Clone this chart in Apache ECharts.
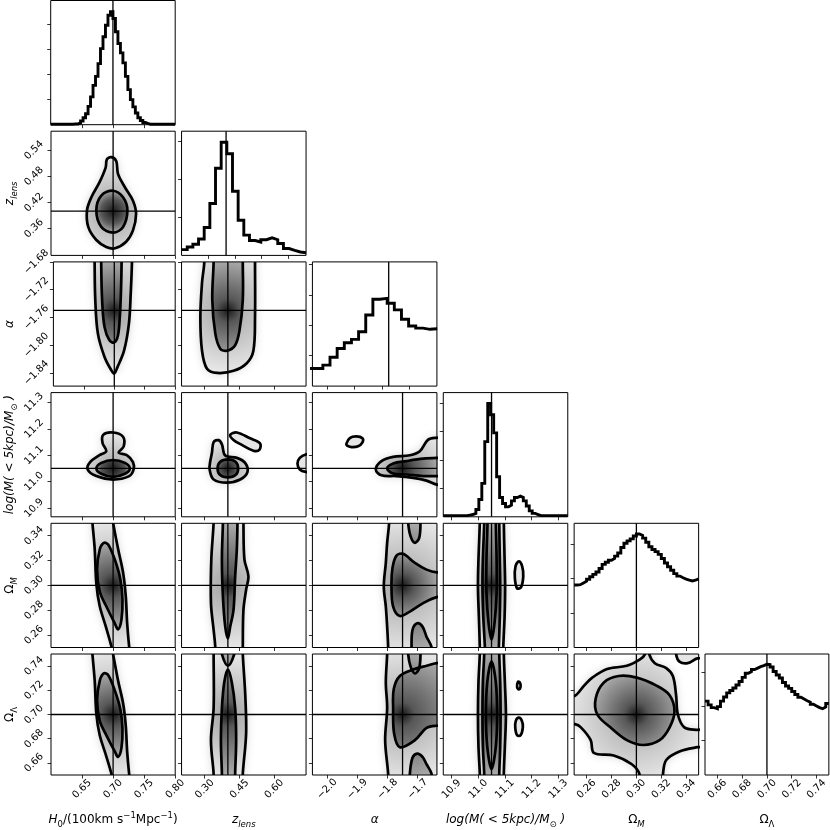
<!DOCTYPE html>
<html>
<head>
<meta charset="utf-8">
<script src="https://cdn.jsdelivr.net/npm/echarts@6/dist/echarts.min.js"></script>
<style>
  html, body { margin: 0; padding: 0; background: #fff; }
  #chart { width: 830px; height: 830px; }
</style>
</head>
<body>
<div id="chart"></div>
<script>
// ---- parameters / truths ----
const truths = [0.70, 0.40, -1.75, 11.05, 0.30, 0.70];

// axis ranges of the lower (2d) panels, per column (x) and per row (y)
const lowX = [[0.60, 0.80], [0.2004, 0.737], [-2.049, -1.636], [10.869, 11.336], [0.25, 0.35]];
const lowY = [null, [0.2986, 0.5836], [-1.859, -1.68], [10.867, 11.337], [0.25, 0.35], [0.65, 0.75]];
const lowXTicks = [[0.65, 0.70, 0.75, 0.80], [0.30, 0.45, 0.60], [-2.0, -1.9, -1.8, -1.7], [10.9, 11.0, 11.1, 11.2, 11.3], [0.26, 0.28, 0.30, 0.32, 0.34]];
const lowYTicks = [null, [0.36, 0.42, 0.48, 0.54], [-1.84, -1.80, -1.76, -1.72, -1.68], [10.9, 11.0, 11.1, 11.2, 11.3], [0.26, 0.28, 0.30, 0.32, 0.34], [0.66, 0.68, 0.70, 0.72, 0.74]];
const lowXDec = [2, 2, 1, 1, 2];
const lowYDec = [0, 2, 2, 1, 2, 2];

// diagonal panels
const diagX = [[0.60, 0.80], [0.15, 0.849], [-2.305, -1.399], [10.869, 11.336], [0.25, 0.35], [0.65, 0.75]];
const diagXTicks = [[0.65, 0.70, 0.75], [0.30, 0.45, 0.60, 0.75], [-2.2, -2.0, -1.8, -1.6], [10.9, 11.0, 11.1, 11.2, 11.3], [0.26, 0.28, 0.30, 0.32, 0.34], [0.66, 0.68, 0.70, 0.72, 0.74]];
const diagYMax = [4.96, 3.25, 4.09, 4.38, 3.6, 3.52];
const diagYTicks = [[1, 2, 3, 4], [1, 2, 3], [1, 2, 3, 4], [1, 2, 3, 4], [1, 2, 3], [1, 2, 3]];

// histograms: [lo, hi] of the bins and bin heights
const h0Range = [0.60, 0.80];
const h0Hist = [0.02, 0.02, 0.02, 0.02, 0.02, 0.02, 0.02, 0.02, 0.02, 0.03, 0.03,
  0.07, 0.15, 0.28, 0.44, 0.73, 1.11, 1.57, 1.93, 2.44, 3.04,
  3.51, 3.97, 4.37, 4.51, 4.24, 3.71, 3.24, 2.87, 2.47, 1.93,
  1.40, 1.00, 0.71, 0.47, 0.28, 0.17, 0.09, 0.05,
  0.02, 0.02, 0.02, 0.02, 0.02, 0.02, 0.02, 0.02, 0.02, 0.02, 0.02];
const zlensRange = [0.15, 0.849];
const zlensHist = [0.15, 0.22, 0.29, 0.43, 0.73, 1.36, 2.28, 2.96, 2.66, 1.68, 0.92, 0.53, 0.39, 0.35, 0.41, 0.46, 0.41, 0.31, 0.18, 0.13, 0.09, 0.07];
const alphaRange = [-2.333, -1.397];
const alphaHist = [0.58, 0.58, 0.69, 0.95, 1.24, 1.43, 1.54, 1.79, 2.34, 2.86, 2.89, 2.73, 2.51, 2.20, 1.98, 1.91, 1.87, 1.89];
const logmRange = [10.869, 11.336];
const logmHist = [0.04, 0.04, 0.04, 0.04, 0.04, 0.04, 0.04, 0.04,
  0.06, 0.08, 0.12, 0.26, 0.61, 1.18, 2.65, 4.0, 3.6, 2.96, 1.41, 0.68, 0.47, 0.35, 0.41, 0.56,
  0.68, 0.73, 0.68, 0.56, 0.38, 0.21, 0.12, 0.08,
  0.04, 0.04, 0.04, 0.04, 0.04, 0.04, 0.04, 0.04, 0.04, 0.04];
const omRange = [0.25, 0.35];
const omHist = [1.81, 1.82, 1.87, 1.92, 1.98, 2.05, 2.12, 2.19, 2.29, 2.41, 2.47, 2.53, 2.58, 2.65, 2.74, 2.90, 3.02, 3.09, 3.15, 3.23,
  3.29, 3.25, 3.17, 3.05, 2.92, 2.84, 2.78, 2.70, 2.58, 2.45, 2.34, 2.24, 2.14, 2.07, 2.02, 1.98, 1.95, 1.93, 1.95, 1.99];
const olRange = [0.65, 0.75];
const olHist = [2.15, 2.04, 1.96, 1.93, 1.99, 2.15, 2.27, 2.39, 2.46, 2.53, 2.62, 2.72, 2.84, 2.96, 3.01, 3.07, 3.11, 3.15, 3.18, 3.22,
  3.21, 3.14, 3.01, 2.91, 2.82, 2.69, 2.59, 2.52, 2.43, 2.34, 2.26, 2.21, 2.16, 2.12, 2.06, 2.01, 1.96, 1.93, 1.98, 2.08];

// ---- contour outlines (data units) ----
// zlens vs H0
const zH0Outer = [[0.697, 0.524], [0.705, 0.515], [0.708, 0.485], [0.719, 0.455], [0.732, 0.424], [0.737, 0.394], [0.732, 0.356], [0.721, 0.330], [0.703, 0.315], [0.689, 0.318], [0.673, 0.334], [0.660, 0.364], [0.658, 0.402], [0.665, 0.432], [0.678, 0.466], [0.688, 0.500], [0.690, 0.519]];
const zH0Inner = [[0.700, 0.447], [0.716, 0.432], [0.723, 0.402], [0.716, 0.364], [0.700, 0.351], [0.681, 0.364], [0.673, 0.402], [0.681, 0.436]];
// alpha vs H0
const aH0Outer = [[0.6677, -1.64], [0.6677, -1.68], [0.6688, -1.735], [0.673, -1.783], [0.684, -1.817], [0.695, -1.836], [0.700, -1.841], [0.705, -1.832], [0.716, -1.808], [0.724, -1.769], [0.727, -1.725], [0.729, -1.68], [0.729, -1.64]];
const aH0Inner = [[0.6785, -1.64], [0.6785, -1.68], [0.680, -1.735], [0.684, -1.774], [0.692, -1.793], [0.700, -1.796], [0.706, -1.786], [0.709, -1.760], [0.711, -1.721], [0.712, -1.68], [0.712, -1.64]];
// alpha vs zlens
const aZOuter = [[0.2986, -1.64], [0.2986, -1.68], [0.2886, -1.71], [0.2814, -1.76], [0.2886, -1.808], [0.31, -1.834], [0.3529, -1.84], [0.4243, -1.837], [0.4814, -1.826], [0.51, -1.808], [0.517, -1.76], [0.517, -1.68], [0.517, -1.64]];
const aZInner = [[0.3386, -1.64], [0.3386, -1.68], [0.3329, -1.735], [0.3457, -1.783], [0.3671, -1.805], [0.3957, -1.808], [0.4314, -1.80], [0.45, -1.779], [0.4643, -1.735], [0.4643, -1.68], [0.4643, -1.64]];
// logM vs H0
const mH0Outer = [[0.70, 11.186], [0.716, 11.17], [0.717, 11.133], [0.709, 11.11], [0.722, 11.10], [0.732, 11.074], [0.733, 11.046], [0.726, 11.021], [0.70, 11.008], [0.673, 11.021], [0.659, 11.046], [0.663, 11.074], [0.678, 11.10], [0.689, 11.115], [0.683, 11.146], [0.684, 11.177]];
const mH0Inner = [[0.673, 11.05], [0.681, 11.071], [0.70, 11.082], [0.719, 11.071], [0.727, 11.05], [0.719, 11.03], [0.70, 11.018], [0.681, 11.03]];
// logM vs zlens
const mZOuter = [[0.3214, 11.046], [0.3386, 11.008], [0.3957, 10.996], [0.4529, 11.008], [0.4843, 11.036], [0.4743, 11.071], [0.4386, 11.09], [0.3886, 11.099], [0.3743, 11.141], [0.36, 11.157], [0.3386, 11.15], [0.3314, 11.109], [0.3243, 11.078]];
const mZInner = [[0.3557, 11.05], [0.3671, 11.075], [0.40, 11.084], [0.4329, 11.075], [0.4443, 11.05], [0.4329, 11.025], [0.40, 11.016], [0.3671, 11.025]];
const mZBlob = [[0.41, 11.177], [0.4386, 11.186], [0.4957, 11.164], [0.5386, 11.145], [0.5357, 11.12], [0.51, 11.117], [0.46, 11.139], [0.4243, 11.158]];
const mZEdge = [[0.767, 11.103], [0.7357, 11.103], [0.71, 11.09], [0.70, 11.069], [0.71, 11.046], [0.7357, 11.037], [0.767, 11.037]];
// logM vs alpha
const mAOuter = [[-1.8387, 11.046], [-1.8199, 11.078], [-1.7812, 11.094], [-1.7258, 11.10], [-1.6926, 11.115], [-1.665, 11.159], [-1.6362, 11.166], [-1.60, 11.166], [-1.60, 10.989], [-1.6362, 10.989], [-1.6705, 11.004], [-1.7148, 11.014], [-1.7701, 11.021], [-1.8199, 11.024]];
const mAInner = [[-1.8011, 11.05], [-1.7812, 11.069], [-1.737, 11.078], [-1.6816, 11.087], [-1.6362, 11.09], [-1.60, 11.09], [-1.60, 11.021], [-1.6362, 11.021], [-1.6816, 11.021], [-1.737, 11.027], [-1.7812, 11.031]];
const mAIsle = [[-1.9362, 11.144], [-1.9251, 11.165], [-1.903, 11.171], [-1.883, 11.164], [-1.883, 11.149], [-1.8974, 11.134], [-1.9196, 11.131], [-1.934, 11.136]];
// OmegaM vs H0
const omH0Outer = [[0.6651, 0.362], [0.6667, 0.3505], [0.6704, 0.3292], [0.6731, 0.3008], [0.6785, 0.2832], [0.6882, 0.267], [0.6973, 0.2508], [0.70, 0.2427], [0.728, 0.2427], [0.7258, 0.2508], [0.7226, 0.2697], [0.7204, 0.2914], [0.7161, 0.3103], [0.7081, 0.3292], [0.70, 0.3505], [0.6973, 0.362]];
const omH0Inner = [[0.685, 0.3343], [0.692, 0.3329], [0.7027, 0.3208], [0.7118, 0.3046], [0.7151, 0.2884], [0.7134, 0.2722], [0.7081, 0.2646], [0.7027, 0.2695], [0.6892, 0.283], [0.6785, 0.2951], [0.6742, 0.3127], [0.6785, 0.3289]];
// OmegaM vs zlens
const omZOuter = [[0.3386, 0.365], [0.3386, 0.3505], [0.3286, 0.3208], [0.3271, 0.2857], [0.3386, 0.2641], [0.3457, 0.2506], [0.3457, 0.24], [0.4643, 0.24], [0.4643, 0.2506], [0.4671, 0.2803], [0.4786, 0.2965], [0.4886, 0.3073], [0.4714, 0.3208], [0.4671, 0.3505], [0.4671, 0.365]];
const omZInner = [[0.3786, 0.365], [0.3786, 0.3505], [0.3743, 0.3208], [0.3786, 0.2911], [0.3886, 0.2668], [0.40, 0.2573], [0.41, 0.2668], [0.4243, 0.2803], [0.4314, 0.3073], [0.4386, 0.3289], [0.4414, 0.3505], [0.4414, 0.365]];
// OmegaM vs alpha
const omAOuter = [[-1.7945, 0.362], [-1.7945, 0.3505], [-1.8011, 0.3343], [-1.8055, 0.3181], [-1.8122, 0.2992], [-1.8055, 0.283], [-1.8011, 0.2668], [-1.7978, 0.2503], [-1.7978, 0.24], [-1.59, 0.24], [-1.59, 0.362]];
const omAInner = [[-1.59, 0.3113], [-1.6362, 0.3105], [-1.6705, 0.3127], [-1.7092, 0.3181], [-1.748, 0.3254], [-1.7701, 0.324], [-1.7834, 0.314], [-1.7867, 0.2992], [-1.7812, 0.283], [-1.759, 0.2754], [-1.7258, 0.2789], [-1.6816, 0.2857], [-1.6362, 0.2906], [-1.59, 0.2906]];
const omATop = [[-1.7314, 0.362], [-1.7314, 0.3505], [-1.7236, 0.3397], [-1.7092, 0.3343], [-1.6948, 0.3383], [-1.6904, 0.3505], [-1.6904, 0.362]];
const omABot = [[-1.7203, 0.24], [-1.7203, 0.2503], [-1.717, 0.2641], [-1.7015, 0.2695], [-1.6838, 0.2668], [-1.6705, 0.2587], [-1.6539, 0.2503], [-1.6539, 0.24]];
// OmegaM vs logM
const omMOuter = [[11.006, 0.362], [11.006, 0.3505], [11.001, 0.3208], [10.999, 0.2992], [11.0025, 0.2749], [11.006, 0.2503], [11.006, 0.24], [11.094, 0.24], [11.094, 0.2503], [11.099, 0.2749], [11.101, 0.2992], [11.099, 0.3208], [11.096, 0.3505], [11.096, 0.362]];
const omMMid = [[11.0225, 0.362], [11.0225, 0.3505], [11.0175, 0.3208], [11.016, 0.2992], [11.019, 0.2749], [11.025, 0.2503], [11.025, 0.24], [11.0775, 0.24], [11.0775, 0.2503], [11.081, 0.2749], [11.0825, 0.2992], [11.081, 0.3208], [11.079, 0.3505], [11.079, 0.362]];
const omMInner = [[11.035, 0.362], [11.035, 0.3505], [11.031, 0.3208], [11.031, 0.2938], [11.039, 0.2695], [11.05, 0.2565], [11.061, 0.2695], [11.069, 0.2938], [11.069, 0.3208], [11.066, 0.3505], [11.066, 0.362]];
const omMIsle = [[11.1525, 0.3194], [11.165, 0.3154], [11.169, 0.3073], [11.161, 0.2987], [11.146, 0.2976], [11.1375, 0.3059], [11.14, 0.3154]];
// OmegaL vs H0
const olH0Outer = [[0.6651, 0.7583], [0.6667, 0.7498], [0.6704, 0.7278], [0.6731, 0.70], [0.6785, 0.6828], [0.6882, 0.6669], [0.6973, 0.651], [0.70, 0.643], [0.728, 0.643], [0.7258, 0.651], [0.7226, 0.6695], [0.7204, 0.6907], [0.7161, 0.7093], [0.7081, 0.7278], [0.70, 0.7498], [0.6973, 0.7583]];
const olH0Inner = [[0.685, 0.7339], [0.692, 0.7326], [0.7027, 0.7199], [0.7118, 0.704], [0.7151, 0.6881], [0.7134, 0.6722], [0.7081, 0.665], [0.7027, 0.6695], [0.6892, 0.6828], [0.6785, 0.6947], [0.6742, 0.7119], [0.6785, 0.7278]];
// OmegaL vs zlens
const olZOuter = [[0.3386, 0.76], [0.3386, 0.7498], [0.3386, 0.7053], [0.3271, 0.6788], [0.3386, 0.651], [0.3386, 0.64], [0.4643, 0.64], [0.4643, 0.651], [0.4786, 0.6841], [0.475, 0.7159], [0.4643, 0.7498], [0.4643, 0.76]];
const olZInner = [[0.40, 0.7371], [0.4171, 0.7265], [0.4314, 0.7053], [0.4357, 0.6788], [0.4314, 0.651], [0.4314, 0.64], [0.3743, 0.64], [0.3743, 0.651], [0.37, 0.6788], [0.3743, 0.7053], [0.3843, 0.7265]];
const olZTop = [[0.37, 0.76], [0.3743, 0.7498], [0.40, 0.7403], [0.4271, 0.7498], [0.4314, 0.76]];
// OmegaL vs alpha
const olAOuter = [[-1.8011, 0.76], [-1.8011, 0.7498], [-1.8055, 0.7265], [-1.8011, 0.7053], [-1.8077, 0.6788], [-1.7978, 0.651], [-1.7978, 0.64], [-1.59, 0.64], [-1.59, 0.76]];
const olAInner = [[-1.59, 0.7429], [-1.6362, 0.7424], [-1.6705, 0.7403], [-1.7148, 0.7371], [-1.759, 0.7318], [-1.779, 0.7212], [-1.7812, 0.7053], [-1.7779, 0.6841], [-1.759, 0.673], [-1.7092, 0.6788], [-1.6705, 0.6889], [-1.6362, 0.6907], [-1.59, 0.6907]];
const olATop = [[-1.7314, 0.76], [-1.7314, 0.7498], [-1.7236, 0.7398], [-1.7092, 0.7339], [-1.6948, 0.7384], [-1.6904, 0.7498], [-1.6904, 0.76]];
const olABot = [[-1.7258, 0.64], [-1.7258, 0.651], [-1.717, 0.6642], [-1.7015, 0.6677], [-1.6838, 0.665], [-1.6705, 0.6589], [-1.6539, 0.651], [-1.6539, 0.64]];
// OmegaL vs logM
const olMOuter = [[11.006, 0.76], [11.006, 0.7498], [11.001, 0.7265], [10.999, 0.70], [11.001, 0.6735], [11.006, 0.651], [11.006, 0.64], [11.096, 0.64], [11.096, 0.651], [11.10, 0.6735], [11.104, 0.70], [11.10, 0.7265], [11.096, 0.7498], [11.096, 0.76]];
const olMMid = [[11.0225, 0.76], [11.0225, 0.7498], [11.0175, 0.7265], [11.016, 0.70], [11.0175, 0.6735], [11.0225, 0.651], [11.0225, 0.64], [11.079, 0.64], [11.079, 0.651], [11.0825, 0.6735], [11.084, 0.70], [11.0825, 0.7265], [11.079, 0.7498], [11.079, 0.76]];
const olMInner = [[11.05, 0.7437], [11.066, 0.7265], [11.071, 0.70], [11.066, 0.6735], [11.05, 0.6549], [11.034, 0.6735], [11.029, 0.70], [11.034, 0.7265]];
const olMDot = [[11.149, 0.727], [11.156, 0.7265], [11.159, 0.7233], [11.1525, 0.7207], [11.146, 0.7225]];
const olMIsle = [[11.1525, 0.6974], [11.164, 0.6947], [11.1675, 0.6894], [11.159, 0.6828], [11.146, 0.6828], [11.139, 0.6889], [11.141, 0.6947]];
// OmegaL vs OmegaM
const olOmOuter = [[0.2448, 0.7159], [0.2506, 0.7154], [0.258, 0.7239], [0.2646, 0.7305], [0.2765, 0.7376], [0.2923, 0.7403], [0.3029, 0.7456], [0.3069, 0.7498], [0.3077, 0.7583], [0.3103, 0.7583], [0.3103, 0.7498], [0.3148, 0.7424], [0.324, 0.7384], [0.3293, 0.7318], [0.3319, 0.7159], [0.3333, 0.70], [0.3385, 0.6894], [0.3491, 0.6873], [0.3557, 0.6873], [0.3557, 0.6735], [0.3491, 0.673], [0.3346, 0.6695], [0.324, 0.6624], [0.3214, 0.651], [0.3214, 0.6417], [0.3024, 0.6417], [0.3024, 0.651], [0.2963, 0.6589], [0.2818, 0.6661], [0.2659, 0.6682], [0.2633, 0.6788], [0.2554, 0.6894], [0.2506, 0.692], [0.2448, 0.692]];
const olOmInner = [[0.2673, 0.7133], [0.2739, 0.7265], [0.2857, 0.7318], [0.3003, 0.7305], [0.3161, 0.7239], [0.3267, 0.7159], [0.3306, 0.7027], [0.3267, 0.6894], [0.3187, 0.6788], [0.3055, 0.6748], [0.2923, 0.6788], [0.2791, 0.6894], [0.2686, 0.70]];
const olOmArc = [[0.3319, 0.76], [0.3319, 0.7498], [0.3346, 0.7437], [0.3412, 0.7424], [0.3491, 0.7464], [0.36, 0.7464], [0.36, 0.76]];

// panels: [row, col, [[level, outline], ...]]  level 0 outer, 1 inner, 2 island
const panels2d = [
  [1, 0, [[0, zH0Outer], [1, zH0Inner]]],
  [2, 0, [[0, aH0Outer], [1, aH0Inner]]],
  [2, 1, [[0, aZOuter], [1, aZInner]]],
  [3, 0, [[0, mH0Outer], [1, mH0Inner]]],
  [3, 1, [[0, mZOuter], [2, mZBlob], [2, mZEdge], [1, mZInner]]],
  [3, 2, [[0, mAOuter], [2, mAIsle], [1, mAInner]]],
  [4, 0, [[0, omH0Outer], [1, omH0Inner]]],
  [4, 1, [[0, omZOuter], [1, omZInner]]],
  [4, 2, [[0, omAOuter], [1, omAInner], [1, omATop], [1, omABot]]],
  [4, 3, [[0, omMOuter], [2, omMIsle], [1, omMMid], [1, omMInner]]],
  [5, 0, [[0, olH0Outer], [1, olH0Inner]]],
  [5, 1, [[0, olZOuter], [1, olZInner], [1, olZTop]]],
  [5, 2, [[0, olAOuter], [1, olAInner], [1, olATop], [1, olABot]]],
  [5, 3, [[0, olMOuter], [2, olMDot], [2, olMIsle], [1, olMMid], [1, olMInner]]],
  [5, 4, [[0, olOmOuter], [2, olOmArc], [1, olOmInner]]]
];

const diagHists = [[h0Range, h0Hist], [zlensRange, zlensHist], [alphaRange, alphaHist], [logmRange, logmHist], [omRange, omHist], [olRange, olHist]];

const FONT = 'DejaVu Sans';
const axisNames = [
  '{i|H}{sub|0}/(100km s{sup|\u22121}Mpc{sup|\u22121})',
  '{i|z}{isub|lens}',
  '{i|\u03b1}',
  '{i|log(M( < 5kpc)/M}{sub|\u2299}{i| )}',
  '\u03a9{isub|M}',
  '\u03a9{sub|\u039b}'
];
const nameRich = {
  i: { fontStyle: 'italic', fontSize: 12, lineHeight: 18, fontFamily: FONT, color: '#000' },
  sub: { fontSize: 8.5, lineHeight: 9, verticalAlign: 'bottom', fontFamily: FONT, color: '#000' },
  isub: { fontSize: 8.5, lineHeight: 9, verticalAlign: 'bottom', fontStyle: 'italic', fontFamily: FONT, color: '#000' },
  sup: { fontSize: 8.5, lineHeight: 9, verticalAlign: 'top', fontFamily: FONT, color: '#000' }
};

function fmt(v, d) {
  return v.toFixed(d).replace('-', '\u2212');
}

// grey levels: dark core of ~12px around the peak, then fading out
function shadeStops(level, rad) {
  if (level === 0) {
    return [{ offset: 0, color: '#a4a4a4' }, { offset: 1, color: '#e9e9e9' }];
  }
  const core = Math.min(0.85, 12 / rad);
  return [{ offset: 0, color: '#1a1a1a' }, { offset: core, color: '#575757' }, { offset: 1, color: '#acacac' }];
}

function makeAxis(dim, g, range, ticks, dec, showLabels, name) {
  const a = {
    type: 'value', gridIndex: g, min: range[0], max: range[1],
    position: dim === 'x' ? 'bottom' : 'left',
    axisLine: { show: false },
    splitLine: { show: false },
    axisTick: { show: true, length: 3.5, customValues: ticks, lineStyle: { color: '#000', width: 0.8 } },
    axisLabel: {
      show: showLabels, customValues: ticks, rotate: 45, fontSize: 10, fontFamily: FONT, color: '#000',
      align: 'center', verticalAlign: 'middle', margin: dim === 'x' ? 14 : 17,
      formatter: (v) => fmt(v, dec)
    }
  };
  if (name) {
    a.name = name;
    a.nameLocation = 'middle';
    a.nameGap = dim === 'x' ? 36 : 32;
    a.nameTextStyle = { fontSize: 12, fontFamily: FONT, color: '#000', lineHeight: 18, rich: nameRich };
  }
  return a;
}

function stepPoints(range, vals) {
  const w = (range[1] - range[0]) / vals.length;
  const out = [];
  vals.forEach((v, i) => {
    out.push([range[0] + i * w, v], [range[0] + (i + 1) * w, v]);
  });
  return out;
}

function vline(g, x, yr) {
  return { type: 'line', xAxisIndex: g, yAxisIndex: g, data: [[x, yr[0]], [x, yr[1]]], symbol: 'none', silent: true, z: 3, lineStyle: { color: '#000', width: 1.3 } };
}
function hline(g, y, xr) {
  return { type: 'line', xAxisIndex: g, yAxisIndex: g, data: [[xr[0], y], [xr[1], y]], symbol: 'none', silent: true, z: 3, lineStyle: { color: '#000', width: 1.3 } };
}

function polySeries(g, shapes, peak, mode) {
  return {
    type: 'custom', xAxisIndex: g, yAxisIndex: g, clip: true, silent: true, z: mode === 'stroke' ? 4 : 1,
    data: shapes.map((s) => s[1][0]),
    renderItem: function (params, api) {
      const s = shapes[params.dataIndex];
      const pts = s[1].map((p) => api.coord(p));
      if (mode === 'stroke') {
        return { type: 'polygon', shape: { points: pts, smooth: 0.35 }, style: { fill: 'none', stroke: '#000', lineWidth: 2.7 } };
      }
      if (s[0] === 2) {
        return { type: 'polygon', shape: { points: pts, smooth: 0.35 }, style: { fill: '#e6e6e6' } };
      }
      const cs = params.coordSys;
      const c = api.coord(peak);
      let rad = 1;
      pts.forEach((p) => {
        const x = Math.min(Math.max(p[0], cs.x), cs.x + cs.width);
        const y = Math.min(Math.max(p[1], cs.y), cs.y + cs.height);
        rad = Math.max(rad, Math.hypot(x - c[0], y - c[1]));
      });
      const fill = new echarts.graphic.RadialGradient(c[0], c[1], rad, shadeStops(s[0], rad), true);
      return {
        type: 'polygon', shape: { points: pts, smooth: 0.35 },
        style: { fill: fill, shadowBlur: s[0] === 0 ? 10 : 0, shadowColor: 'rgba(0,0,0,0.2)' }
      };
    }
  };
}

const grids = [], xAxes = [], yAxes = [], series = [];
const gridOf = {};
for (let r = 0; r < 6; r++) {
  for (let c = 0; c <= r; c++) {
    const g = grids.length;
    gridOf[r + '_' + c] = g;
    grids.push({
      left: 50.7 + 130.86 * c, top: 0.5 + 130.7 * r, width: 124.5, height: 124.2,
      show: true, borderColor: '#000', borderWidth: 1, backgroundColor: 'rgba(0,0,0,0)', z: 10
    });
    const bottom = r === 5;
    if (r === c) {
      xAxes.push(makeAxis('x', g, diagX[c], diagXTicks[c], 2, bottom, bottom ? axisNames[c] : null));
      yAxes.push(makeAxis('y', g, [0, diagYMax[c]], diagYTicks[c], 0, false, null));
      const h = diagHists[c];
      series.push({
        type: 'line', xAxisIndex: g, yAxisIndex: g, data: stepPoints(h[0], h[1]), symbol: 'none', silent: true, z: 4,
        lineStyle: { color: '#000', width: 2.9, join: 'miter' }
      });
      series.push(vline(g, truths[c], [0, diagYMax[c]]));
    } else {
      xAxes.push(makeAxis('x', g, lowX[c], lowXTicks[c], lowXDec[c], bottom, bottom ? axisNames[c] : null));
      yAxes.push(makeAxis('y', g, lowY[r], lowYTicks[r], lowYDec[r], c === 0, c === 0 ? axisNames[r] : null));
    }
  }
}

panels2d.forEach(([r, c, shapes]) => {
  const g = gridOf[r + '_' + c];
  const peak = [truths[c], truths[r]];
  series.push(polySeries(g, shapes, peak, 'fill'));
  series.push(vline(g, truths[c], lowY[r]));
  series.push(hline(g, truths[r], lowX[c]));
  series.push(polySeries(g, shapes, peak, 'stroke'));
});

const chart = echarts.init(document.getElementById('chart'), null, { renderer: 'canvas' });
chart.setOption({
  animation: false,
  backgroundColor: '#fff',
  grid: grids,
  xAxis: xAxes,
  yAxis: yAxes,
  series: series
});
</script>
</body>
</html>
